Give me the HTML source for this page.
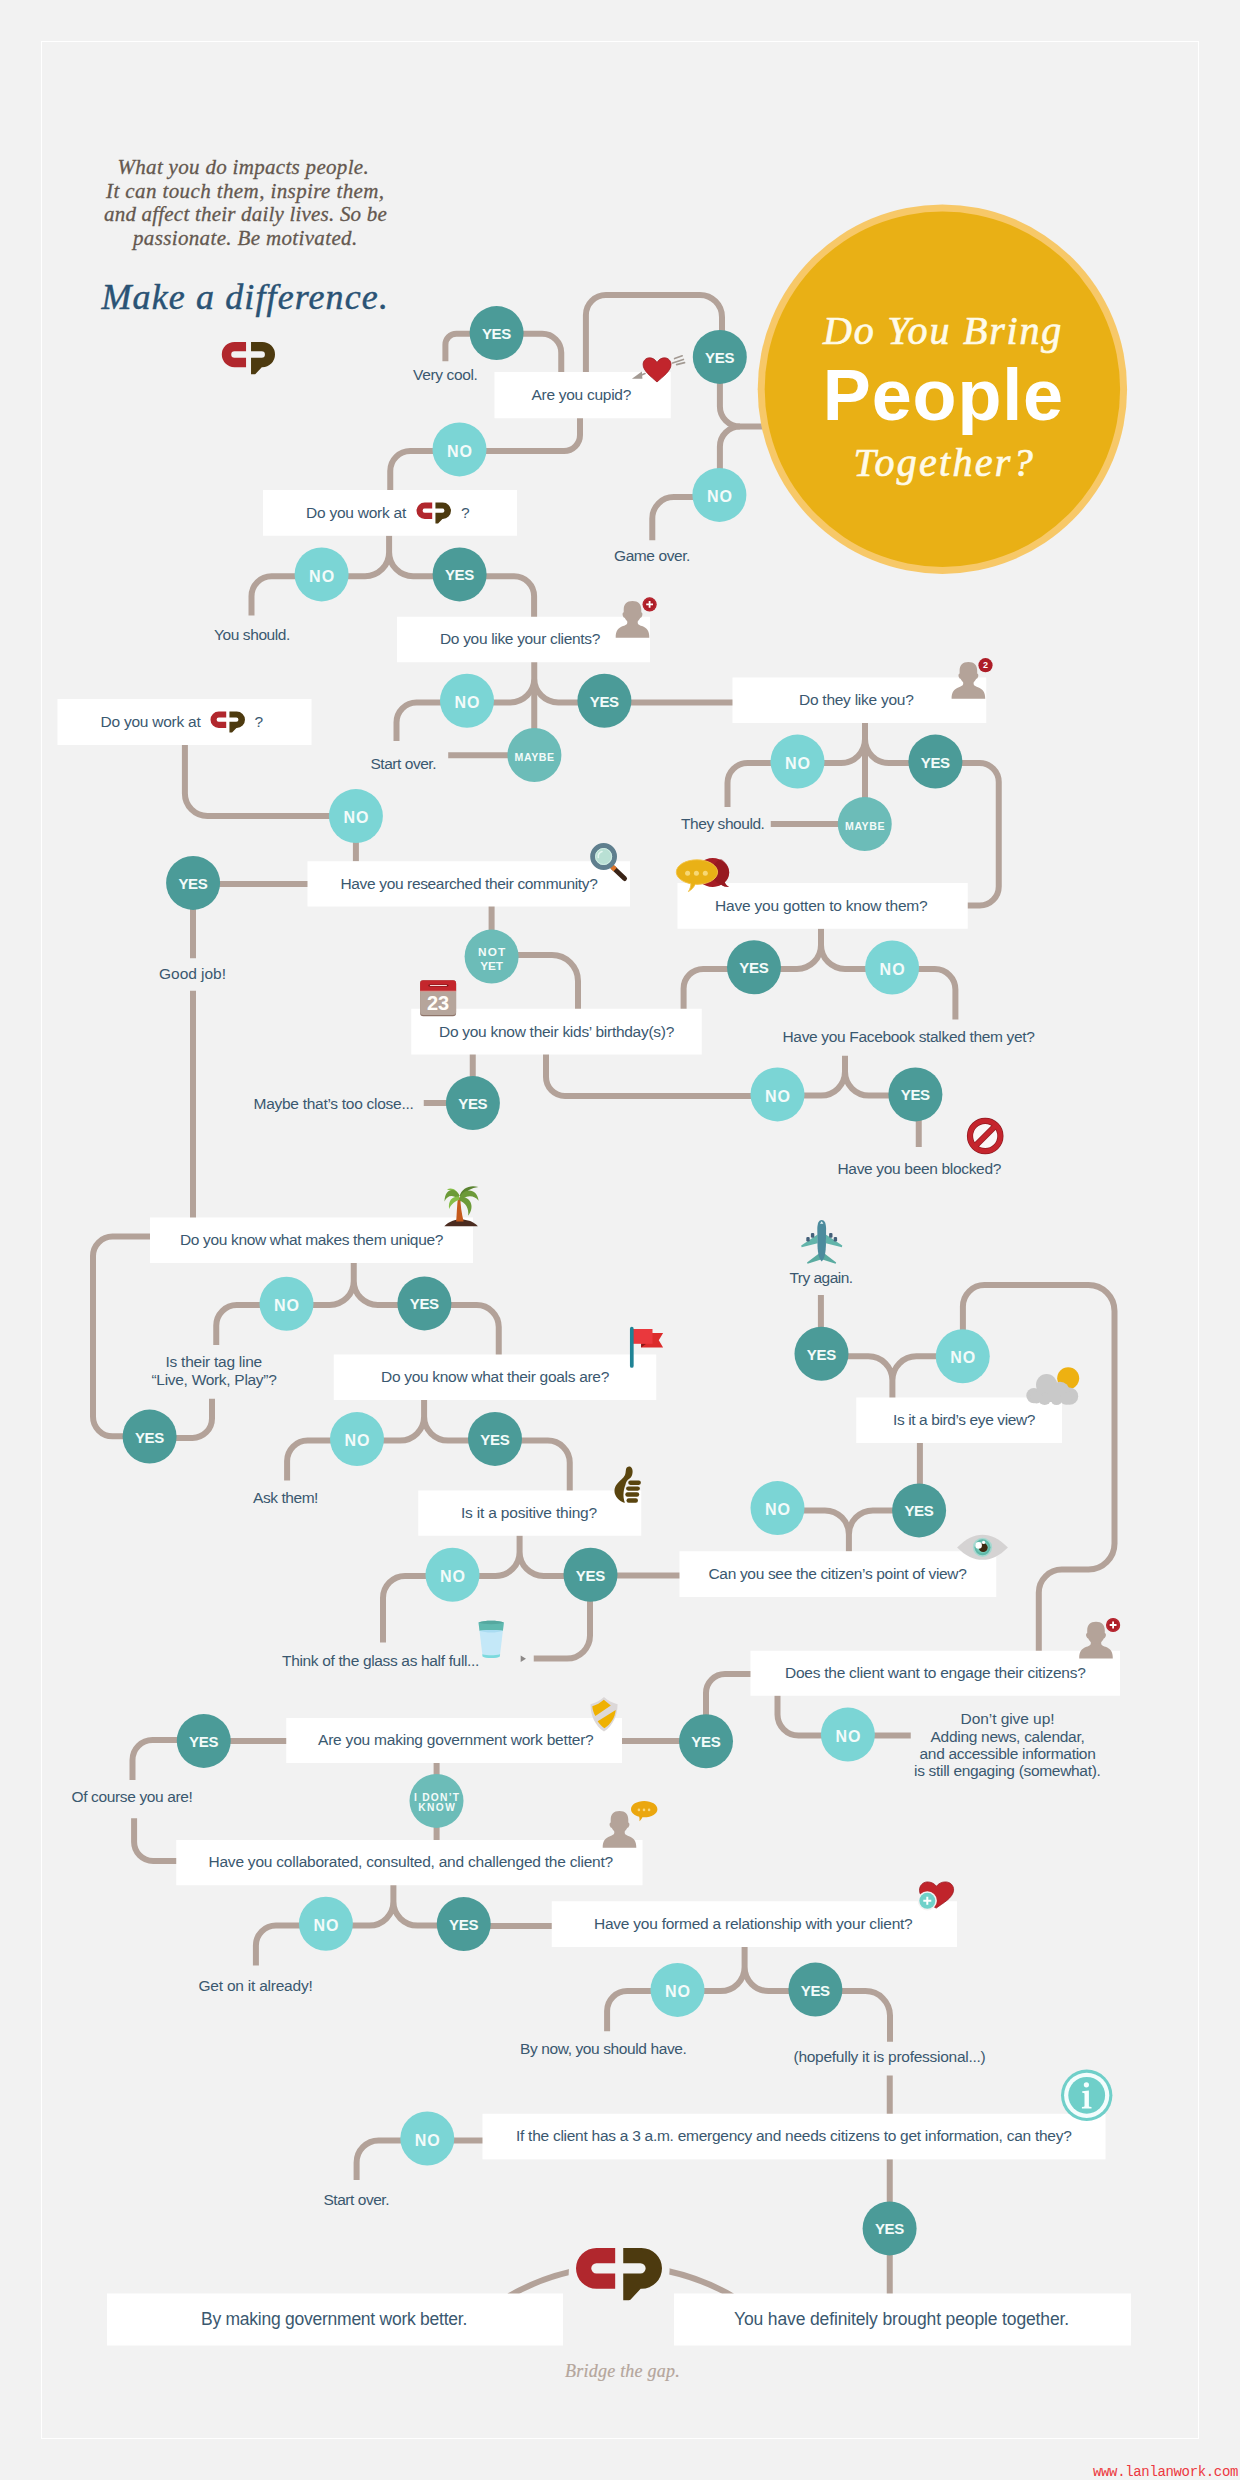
<!DOCTYPE html>
<html><head><meta charset="utf-8"><title>Do You Bring People Together?</title>
<style>
html,body{margin:0;padding:0;background:#f2f2f2;}
#page{position:relative;width:1240px;height:2480px;background:#f2f2f2;overflow:hidden;font-family:"Liberation Sans",sans-serif;}
#page svg.art{position:absolute;left:0;top:0;}
.t{position:absolute;white-space:pre;color:#3a586f;font-size:15.5px;line-height:20px;height:20px;}
.tb{position:absolute;white-space:pre;color:#3a586f;font-size:17.5px;line-height:22px;height:22px;}
.f{position:absolute;white-space:pre;line-height:1;}
.c{position:absolute;white-space:pre;color:#f3fbfa;font-weight:bold;text-align:left;}
</style></head><body><div id="page">

<svg class="art" width="1240" height="2480" viewBox="0 0 1240 2480">
<rect x="41.5" y="41.5" width="1157" height="2397" fill="none" stroke="#ffffff" stroke-width="1"/>
<path d="M509.1,2296 A223.1,223.1 0 0 1 570,2271.9 M668.5,2271.2 A223.1,223.1 0 0 1 732.3,2296" fill="none" stroke="#b3a299" stroke-width="6"/>
<g fill="none" stroke="#b3a299" stroke-width="6" stroke-linecap="butt" stroke-linejoin="round">
<path d="M496,333.75 H456.4 A11,11 0 0 0 445.4,344.75 V361.25"/>
<path d="M496,333.75 H542.25 A19,19 0 0 1 561.25,352.75 V372"/>
<path d="M585.9,372 V315 A20,20 0 0 1 605.9,295 H700 A22,22 0 0 1 722,317 V357"/>
<path d="M719.9,357 V406.4 A20,20 0 0 0 739.9,426.4 H770"/>
<path d="M719.9,495 V446.4 A20,20 0 0 1 739.9,426.4"/>
<path d="M719,497 H673.6999999999999 A21.4,21.4 0 0 0 652.3,518.4 V540.25"/>
<path d="M580,418 V435.1 A16,16 0 0 1 564,451.1 H410.25 A20,20 0 0 0 390.25,471.1 V490"/>
<path d="M389.1,535.5 V552.25 A24,24 0 0 1 365.1,576.25 H321 M389.1,552.25 A24,24 0 0 0 413.1,576.25 H459"/>
<path d="M321,576.25 H271.5 A20,20 0 0 0 251.5,596.25 V615.5"/>
<path d="M459,576.25 H514.1 A20,20 0 0 1 534.1,596.25 V617"/>
<path d="M534.25,662 V678.5 A24,24 0 0 1 510.25,702.5 H467 M534.25,678.5 A24,24 0 0 0 558.25,702.5 H604"/>
<path d="M534.25,690 V755.2 H448.2"/>
<path d="M467,702.5 H416.5 A20,20 0 0 0 396.5,722.5 V741"/>
<path d="M604,702.4 H733"/>
<path d="M865,722.5 V739.1 A24,24 0 0 1 841,763.1 H797 M865,739.1 A24,24 0 0 0 889,763.1 H935"/>
<path d="M865,750 V824.1 H770.75"/>
<path d="M797,763.1 H747.5 A20,20 0 0 0 727.5,783.1 V807"/>
<path d="M935,763.1 H979.75 A19,19 0 0 1 998.75,782.1 V886.4 A19,19 0 0 1 979.75,905.4 H967"/>
<path d="M821,928.5 V945 A24,24 0 0 1 797,969 H754 M821,945 A24,24 0 0 0 845,969 H892"/>
<path d="M754,969 H703.2 A19.6,19.6 0 0 0 683.6,988.6 V1009"/>
<path d="M892,969 H934.9 A20.5,20.5 0 0 1 955.4,989.5 V1019.5"/>
<path d="M845,1055.75 V1071.6 A24,24 0 0 1 821,1095.6 H777 M845,1071.6 A24,24 0 0 0 869,1095.6 H915"/>
<path d="M777,1096 H565 A19,19 0 0 1 546,1077 V1054"/>
<path d="M918.75,1095 V1147"/>
<path d="M184.9,745 V793.5 A22.5,22.5 0 0 0 207.4,816 H355"/>
<path d="M355.9,816 V861.5"/>
<path d="M193,884.1 H308"/>
<path d="M193,883 V958.25"/>
<path d="M193,990.75 V1218"/>
<path d="M491.6,906 V957"/>
<path d="M491,955 H552 A26,26 0 0 1 578,981 V1009"/>
<path d="M472.75,1054 V1103"/>
<path d="M472.75,1102.9 H423.75"/>
<path d="M150.5,1236.6 H112.5 A19.5,19.5 0 0 0 93,1256.1 V1416.75 A19.5,19.5 0 0 0 112.5,1436.25 H149"/>
<path d="M149,1437.9 H192.5 A19.5,19.5 0 0 0 212,1418.4 V1398.75"/>
<path d="M353.75,1262.5 V1281 A24,24 0 0 1 329.75,1305 H286 M353.75,1281 A24,24 0 0 0 377.75,1305 H424"/>
<path d="M286,1305 H236.75 A20.5,20.5 0 0 0 216.25,1325.5 V1345"/>
<path d="M424,1305.1 H476.75 A22,22 0 0 1 498.75,1327.1 V1355"/>
<path d="M424.1,1399.5 V1416.6 A24,24 0 0 1 400.1,1440.6 H357 M424.1,1416.6 A24,24 0 0 0 448.1,1440.6 H495"/>
<path d="M357,1440.6 H307.6 A20.5,20.5 0 0 0 287.1,1461.1 V1480.5"/>
<path d="M495,1440.6 H547.75 A22,22 0 0 1 569.75,1462.6 V1491"/>
<path d="M519.6,1535.25 V1552 A24,24 0 0 1 495.6,1576 H452 M519.6,1552 A24,24 0 0 0 543.6,1576 H590"/>
<path d="M452,1576 H405 A22,22 0 0 0 383,1598 V1642.5"/>
<path d="M590,1575.4 H680"/>
<path d="M590,1575 V1635.6 A23,23 0 0 1 567,1658.6 H533.75"/>
<path d="M820.9,1354 V1295"/>
<path d="M892.4,1398 V1380.25 A24,24 0 0 0 868.4,1356.25 H821 M892.4,1380.25 A24,24 0 0 1 916.4,1356.25 H962"/>
<path d="M962.9,1356 V1306.5 A21.5,21.5 0 0 1 984.4,1285 H1088.5 A26,26 0 0 1 1114.5,1311 V1543.6 A26,26 0 0 1 1088.5,1569.6 H1061.8 A23,23 0 0 0 1038.8,1592.6 V1651"/>
<path d="M919.9,1442.5 V1510.5"/>
<path d="M848.9,1551.75 V1534.4 A24,24 0 0 0 824.9,1510.4 H777 M848.9,1534.4 A24,24 0 0 1 872.9,1510.4 H919"/>
<path d="M751,1674.1 H725 A19,19 0 0 0 706,1693.1 V1741"/>
<path d="M706,1740.9 H621.5"/>
<path d="M777.5,1695.25 V1714.5 A21,21 0 0 0 798.5,1735.5 H910.75"/>
<path d="M203,1740.9 H287"/>
<path d="M203,1740 H152.5 A20,20 0 0 0 132.5,1760 V1780"/>
<path d="M134.1,1818.25 V1841.9 A19,19 0 0 0 153.1,1860.9 H177"/>
<path d="M436.6,1762.5 V1840.5"/>
<path d="M393.4,1885 V1901.6 A24,24 0 0 1 369.4,1925.6 H326 M393.4,1901.6 A24,24 0 0 0 417.4,1925.6 H463"/>
<path d="M326,1925.6 H275.9 A20,20 0 0 0 255.9,1945.6 V1965.5"/>
<path d="M463,1925.9 H552"/>
<path d="M744.6,1946.5 V1967.1 A24,24 0 0 1 720.6,1991.1 H677 M744.6,1967.1 A24,24 0 0 0 768.6,1991.1 H815"/>
<path d="M677,1991.1 H627.1 A20,20 0 0 0 607.1,2011.1 V2031.25"/>
<path d="M815,1991.1 H865.5 A24.5,24.5 0 0 1 890,2015.6 V2041.75"/>
<path d="M889.75,2075.5 V2114"/>
<path d="M427,2140.4 H483"/>
<path d="M427,2140.4 H378.6 A22,22 0 0 0 356.6,2162.4 V2180"/>
<path d="M889.75,2159 V2294.5"/>
</g>
<circle cx="942.4" cy="389.2" r="184.7" fill="#f7c868"/>
<circle cx="942.4" cy="389.2" r="177.7" fill="#e9b015"/>
<rect x="494.5" y="372" width="176.25" height="46.25" fill="#fff"/>
<rect x="263" y="490" width="254" height="45.75" fill="#fff"/>
<rect x="397" y="616.75" width="253" height="45.5" fill="#fff"/>
<rect x="732.5" y="677.5" width="253.75" height="45.5" fill="#fff"/>
<rect x="57.5" y="699" width="254.0" height="46" fill="#fff"/>
<rect x="307.5" y="861.25" width="322.5" height="45.25" fill="#fff"/>
<rect x="677.5" y="883" width="290.25" height="45.75" fill="#fff"/>
<rect x="411.25" y="1008.75" width="290.5" height="45.75" fill="#fff"/>
<rect x="150" y="1217.5" width="323" height="45.5" fill="#fff"/>
<rect x="333.75" y="1354.5" width="322.5" height="45.5" fill="#fff"/>
<rect x="418.25" y="1490.5" width="223.0" height="45.25" fill="#fff"/>
<rect x="856.25" y="1397.5" width="205.75" height="45.5" fill="#fff"/>
<rect x="679.5" y="1551.25" width="316.75" height="45.75" fill="#fff"/>
<rect x="750.5" y="1650.75" width="369.5" height="45.0" fill="#fff"/>
<rect x="286.25" y="1718" width="335.75" height="45" fill="#fff"/>
<rect x="176.25" y="1840" width="466.25" height="45.25" fill="#fff"/>
<rect x="551.75" y="1901.25" width="405.25" height="45.75" fill="#fff"/>
<rect x="482.5" y="2113.75" width="623.0" height="45.65000000000009" fill="#fff"/>
<rect x="107" y="2293.5" width="456" height="52.0" fill="#fff"/>
<rect x="674" y="2293.5" width="457" height="52.0" fill="#fff"/>
<circle cx="496.6" cy="333.1" r="27" fill="#4b9b98"/>
<circle cx="719.8" cy="356.9" r="27" fill="#4b9b98"/>
<circle cx="459.5" cy="449.4" r="27" fill="#7bd5d5"/>
<circle cx="719.4" cy="494.9" r="27" fill="#7bd5d5"/>
<circle cx="321.6" cy="574.4" r="27" fill="#7bd5d5"/>
<circle cx="459.6" cy="574.4" r="27" fill="#4b9b98"/>
<circle cx="467" cy="700.8" r="27" fill="#7bd5d5"/>
<circle cx="604.4" cy="700.8" r="27" fill="#4b9b98"/>
<circle cx="534.4" cy="755" r="27" fill="#6cbcb8"/>
<circle cx="355.9" cy="816.1" r="27" fill="#7bd5d5"/>
<circle cx="193.1" cy="882.9" r="27" fill="#4b9b98"/>
<circle cx="491.6" cy="956.6" r="27" fill="#6cbcb8"/>
<circle cx="472.9" cy="1103.1" r="27" fill="#4b9b98"/>
<circle cx="797.5" cy="761.6" r="27" fill="#7bd5d5"/>
<circle cx="935.4" cy="761.6" r="27" fill="#4b9b98"/>
<circle cx="864.75" cy="824.1" r="27" fill="#6cbcb8"/>
<circle cx="754" cy="967.3" r="27" fill="#4b9b98"/>
<circle cx="892.1" cy="967.5" r="27" fill="#7bd5d5"/>
<circle cx="777.5" cy="1094.4" r="27" fill="#7bd5d5"/>
<circle cx="915.4" cy="1094.4" r="27" fill="#4b9b98"/>
<circle cx="286.5" cy="1303.75" r="27" fill="#7bd5d5"/>
<circle cx="424.4" cy="1303.4" r="27" fill="#4b9b98"/>
<circle cx="149.6" cy="1436.6" r="27" fill="#4b9b98"/>
<circle cx="357" cy="1439.1" r="27" fill="#7bd5d5"/>
<circle cx="495" cy="1438.9" r="27" fill="#4b9b98"/>
<circle cx="452.5" cy="1574.8" r="27" fill="#7bd5d5"/>
<circle cx="590.5" cy="1574.8" r="27" fill="#4b9b98"/>
<circle cx="821.5" cy="1353.75" r="27" fill="#4b9b98"/>
<circle cx="962.75" cy="1356.25" r="27" fill="#7bd5d5"/>
<circle cx="777.5" cy="1508.1" r="27" fill="#7bd5d5"/>
<circle cx="919.1" cy="1510.4" r="27" fill="#4b9b98"/>
<circle cx="706" cy="1741.25" r="27" fill="#4b9b98"/>
<circle cx="847.9" cy="1734.6" r="27" fill="#7bd5d5"/>
<circle cx="203.75" cy="1740.9" r="27" fill="#4b9b98"/>
<circle cx="436.5" cy="1800.9" r="27" fill="#6cbcb8"/>
<circle cx="325.9" cy="1923.75" r="27" fill="#7bd5d5"/>
<circle cx="463.75" cy="1924.1" r="27" fill="#4b9b98"/>
<circle cx="677.5" cy="1989.9" r="27" fill="#7bd5d5"/>
<circle cx="815.4" cy="1989.6" r="27" fill="#4b9b98"/>
<circle cx="427.3" cy="2138.5" r="27" fill="#7bd5d5"/>
<circle cx="889.6" cy="2228.4" r="27" fill="#4b9b98"/>
<g transform="translate(221.8,341.9) scale(0.1347)"><path fill="#b1272d" d="M180,0 H94 A94,94 0 0 0 94,188 H180 V118 H94 A24,24 0 0 1 94,70 H180 Z"/><path fill="#4d3a0f" d="M217,0 H301 A94,94 0 0 1 301,188 H297 L250,238 Q247,240 243,240 H217 V118 H296 A24,24 0 0 0 296,70 H217 Z"/></g>
<g transform="translate(416.5,502.5) scale(0.0873)"><path fill="#b1272d" d="M180,0 H94 A94,94 0 0 0 94,188 H180 V118 H94 A24,24 0 0 1 94,70 H180 Z"/><path fill="#4d3a0f" d="M217,0 H301 A94,94 0 0 1 301,188 H297 L250,238 Q247,240 243,240 H217 V118 H296 A24,24 0 0 0 296,70 H217 Z"/></g>
<g transform="translate(210.5,711.5) scale(0.0873)"><path fill="#b1272d" d="M180,0 H94 A94,94 0 0 0 94,188 H180 V118 H94 A24,24 0 0 1 94,70 H180 Z"/><path fill="#4d3a0f" d="M217,0 H301 A94,94 0 0 1 301,188 H297 L250,238 Q247,240 243,240 H217 V118 H296 A24,24 0 0 0 296,70 H217 Z"/></g>
<path d="M568.6,2276 Q568.6,2240 600,2240 H640 Q669.6,2240 669.6,2270 Q669.6,2288 652,2296 L640,2308 H612 V2298 H600 Q568.6,2298 568.6,2276 Z" fill="#f2f2f2"/>
<g transform="translate(576,2247.9) scale(0.2177)"><path fill="#b1272d" d="M180,0 H94 A94,94 0 0 0 94,188 H180 V118 H94 A24,24 0 0 1 94,70 H180 Z"/><path fill="#4d3a0f" d="M217,0 H301 A94,94 0 0 1 301,188 H297 L250,238 Q247,240 243,240 H217 V118 H296 A24,24 0 0 0 296,70 H217 Z"/></g>
<g stroke="#a39a93" stroke-width="1.6" fill="none" stroke-linecap="round"><path d="M674.6,358.6 L682.2,355.8 M672.6,362.9 L683.4,359.4 M676.6,364.6 L684.6,362.6"/><path d="M645,373.6 L641,375.2"/></g>
<path d="M631.9,378.8 L641.9,371.5 L642.4,378.8 Z" fill="#a39a93"/>
<path d="M657,362.6 C655.5,359.6 652.6,357.8 649.6,357.8 C645.9,357.8 643.1,360.8 643.1,364.5 C643.1,371 651,376.5 657,382 C663,376.5 671,371 671,364.5 C671,360.8 668.2,357.8 664.5,357.8 C661.5,357.8 658.5,359.6 657,362.6 Z" fill="#c1252c" stroke="#a01b22" stroke-width="0.8"/>
<g transform="translate(632.5,637.7)" fill="#b4a399"><path d="M-16.8,0 C-16.9,-6.5 -14.5,-9.6 -9.5,-11.6 C-6,-13 -5.2,-13.6 -5.2,-15.5 V-19 H5.2 V-15.5 C5.2,-13.6 6,-13 9.5,-11.6 C14.5,-9.6 16.9,-6.5 16.8,0 Z"/><path d="M0,-36.7 C5.8,-36.7 8.8,-33.4 8.8,-28 V-25.4 C10,-25.2 10.2,-23.4 9.6,-21.8 C9.1,-20.4 8.4,-20 7.8,-20 C6.6,-17 3.6,-14.6 0,-14.6 C-3.6,-14.6 -6.6,-17 -7.8,-20 C-8.4,-20 -9.1,-20.4 -9.6,-21.8 C-10.2,-23.4 -10,-25.2 -8.8,-25.4 V-28 C-8.8,-33.4 -5.8,-36.7 0,-36.7 Z"/></g>
<circle cx="649.6" cy="604.4" r="7.1" fill="#ad1d27"/><circle cx="649.6" cy="604.4" r="6" fill="none" stroke="#c2303a" stroke-width="1.2" opacity=".6"/><path d="M646.2,604.4 H653.0 M649.6,601.0 V607.8" stroke="#fff" stroke-width="1.8" fill="none"/>
<g transform="translate(968.4,698.8)" fill="#b4a399"><path d="M-16.8,0 C-16.9,-6.5 -14.5,-9.6 -9.5,-11.6 C-6,-13 -5.2,-13.6 -5.2,-15.5 V-19 H5.2 V-15.5 C5.2,-13.6 6,-13 9.5,-11.6 C14.5,-9.6 16.9,-6.5 16.8,0 Z"/><path d="M0,-36.7 C5.8,-36.7 8.8,-33.4 8.8,-28 V-25.4 C10,-25.2 10.2,-23.4 9.6,-21.8 C9.1,-20.4 8.4,-20 7.8,-20 C6.6,-17 3.6,-14.6 0,-14.6 C-3.6,-14.6 -6.6,-17 -7.8,-20 C-8.4,-20 -9.1,-20.4 -9.6,-21.8 C-10.2,-23.4 -10,-25.2 -8.8,-25.4 V-28 C-8.8,-33.4 -5.8,-36.7 0,-36.7 Z"/></g>
<circle cx="985.5" cy="665.2" r="7.1" fill="#ad1d27"/><text x="985.5" y="668.4" font-family="Liberation Sans" font-weight="bold" font-size="9" fill="#fff" text-anchor="middle">2</text>
<g transform="translate(1096,1658.4)" fill="#b4a399"><path d="M-16.8,0 C-16.9,-6.5 -14.5,-9.6 -9.5,-11.6 C-6,-13 -5.2,-13.6 -5.2,-15.5 V-19 H5.2 V-15.5 C5.2,-13.6 6,-13 9.5,-11.6 C14.5,-9.6 16.9,-6.5 16.8,0 Z"/><path d="M0,-36.7 C5.8,-36.7 8.8,-33.4 8.8,-28 V-25.4 C10,-25.2 10.2,-23.4 9.6,-21.8 C9.1,-20.4 8.4,-20 7.8,-20 C6.6,-17 3.6,-14.6 0,-14.6 C-3.6,-14.6 -6.6,-17 -7.8,-20 C-8.4,-20 -9.1,-20.4 -9.6,-21.8 C-10.2,-23.4 -10,-25.2 -8.8,-25.4 V-28 C-8.8,-33.4 -5.8,-36.7 0,-36.7 Z"/></g>
<circle cx="1113.1" cy="1625" r="7.1" fill="#ad1d27"/><circle cx="1113.1" cy="1625" r="6" fill="none" stroke="#c2303a" stroke-width="1.2" opacity=".6"/><path d="M1109.6999999999998,1625 H1116.5 M1113.1,1621.6 V1628.4" stroke="#fff" stroke-width="1.8" fill="none"/>
<g transform="translate(619.5,1847.8)" fill="#b4a399"><path d="M-16.8,0 C-16.9,-6.5 -14.5,-9.6 -9.5,-11.6 C-6,-13 -5.2,-13.6 -5.2,-15.5 V-19 H5.2 V-15.5 C5.2,-13.6 6,-13 9.5,-11.6 C14.5,-9.6 16.9,-6.5 16.8,0 Z"/><path d="M0,-36.7 C5.8,-36.7 8.8,-33.4 8.8,-28 V-25.4 C10,-25.2 10.2,-23.4 9.6,-21.8 C9.1,-20.4 8.4,-20 7.8,-20 C6.6,-17 3.6,-14.6 0,-14.6 C-3.6,-14.6 -6.6,-17 -7.8,-20 C-8.4,-20 -9.1,-20.4 -9.6,-21.8 C-10.2,-23.4 -10,-25.2 -8.8,-25.4 V-28 C-8.8,-33.4 -5.8,-36.7 0,-36.7 Z"/></g>
<path d="M644.2,1801.1 C651.6,1801.1 657.4,1804.7 657.4,1809.2 C657.4,1813.7 651.6,1817.3 644.2,1817.3 C643.6,1817.3 643,1817.3 642.4,1817.2 C641.6,1819 640.6,1820.3 639.4,1821.3 C639.7,1819.7 639.6,1818.2 639.2,1816.7 C634.3,1815.5 631,1812.6 631,1809.2 C631,1804.7 636.8,1801.1 644.2,1801.1 Z" fill="#eba70f"/>
<g fill="#f8d77c"><circle cx="638.9" cy="1809.9" r="1.3"/><circle cx="644" cy="1809.9" r="1.3"/><circle cx="649.1" cy="1809.9" r="1.3"/></g>
<path d="M613.2,867.8 L624.6,878.6" stroke="#3a2417" stroke-width="4.8" stroke-linecap="round" fill="none"/>
<path d="M611.6,866.2 L615.2,869.6" stroke="#dc7428" stroke-width="4.8" fill="none"/>
<circle cx="603.6" cy="856.5" r="11" fill="#b9e0d4" stroke="#5f7f8e" stroke-width="4.8"/>
<circle cx="603.6" cy="856.5" r="8" fill="none" stroke="#d4efe6" stroke-width="1"/>
<path d="M598.3,857.5 A5.6,5.6 0 0 1 602,851.5" stroke="#e4f6f0" stroke-width="1.6" fill="none" stroke-linecap="round"/>
<path d="M712.7,857.9 C721.8,857.9 729.2,864.4 729.2,872.4 C729.2,876.2 727.5,879.7 724.8,882.2 C725.6,884.2 727,885.8 729,887 C726,887.2 723.4,886.3 721.2,884.8 C718.7,886.2 715.8,886.9 712.7,886.9 C703.6,886.9 696.2,880.4 696.2,872.4 C696.2,864.4 703.6,857.9 712.7,857.9 Z" fill="#a51d25"/>
<path d="M712,872.4 C712,866 716,860.5 721,858.9 C725.8,861.6 729.2,866.6 729.2,872.4 C729.2,876.2 727.5,879.7 724.8,882.2 C725.6,884.2 727,885.8 729,887 C726,887.2 723.4,886.3 721.2,884.8 C716,883 712,878.5 712,872.4 Z" fill="#8d151d" opacity=".55"/>
<path d="M697,859.8 C708.4,859.8 717.6,865.3 717.6,872.1 C717.6,878.9 708.4,884.4 697,884.4 C696.4,884.4 695.8,884.4 695.2,884.3 C693.8,887.4 691.6,889.8 688.4,891.6 C690,889.2 690.8,886.6 690.9,883.8 C682.4,882.2 676.3,877.6 676.3,872.1 C676.3,865.3 685.6,859.8 697,859.8 Z" fill="#e9b116" stroke="#f3c347" stroke-width="0.9"/>
<g fill="#f7d875"><circle cx="687.6" cy="873.3" r="2.5"/><circle cx="696.4" cy="873.3" r="2.5"/><circle cx="705.3" cy="873.3" r="2.5"/></g>
<rect x="420.1" y="980.2" width="36" height="36" rx="3.2" fill="#8e7469"/>
<rect x="420.1" y="980.2" width="36" height="34.8" rx="3.2" fill="#b6a59b"/>
<path d="M420.1,991.2 V983.4 Q420.1,980.2 423.3,980.2 H452.9 Q456.1,980.2 456.1,983.4 V991.2 Z" fill="#c4262c"/>
<path d="M420.1,991.2 H456.1" stroke="#d9a9a0" stroke-width="0.8"/>
<path d="M429.4,985.5 H447.4" stroke="#7a1216" stroke-width="2.2" stroke-linecap="round"/><path d="M430.4,985.5 H446.4" stroke="#f6d9d6" stroke-width="1.2" stroke-linecap="round"/>
<text x="438.1" y="1009.7" font-family="Liberation Sans" font-weight="bold" font-size="20" fill="#fffdf8" text-anchor="middle">23</text>
<circle cx="985.2" cy="1136" r="15.2" fill="#faf7f7" stroke="#8f1a21" stroke-width="6.2"/>
<path d="M974.6,1146.6 L995.8,1125.4" stroke="#8f1a21" stroke-width="6.2" fill="none"/>
<circle cx="985.2" cy="1136" r="15.2" fill="none" stroke="#c5252d" stroke-width="4.8"/>
<path d="M974.6,1146.6 L995.8,1125.4" stroke="#c5252d" stroke-width="4.8" fill="none"/>
<path d="M444.3,1226.3 C449,1221.4 455,1219.6 461,1219.6 C467.4,1219.6 473.4,1221.6 477.9,1226.3 Z" fill="#4b2c20"/>
<path d="M456.2,1221.6 C456.8,1213 457,1205 458,1197.4 L460.4,1197.4 C460.4,1205 461.6,1213 463.6,1221.6 Z" fill="#c45a1c"/>
<path d="M459.4,1195.6 C456.6,1189.6 451.4,1186.6 446.8,1189.8 C451,1189.6 454.4,1192 457,1197 Z" fill="#86be48"/>
<path d="M459.5,1195.4 C455,1187 445,1188 444.5,1201.4 C447.2,1195.6 452.2,1194 458,1198.8 Z" fill="#6c9a38"/>
<path d="M459,1196.6 C452,1196 448,1201 449.1,1208.9 C451.6,1204 454.6,1201.2 459.8,1199.8 Z" fill="#86be48"/>
<path d="M459.6,1196 C462,1188 470,1184.6 478.4,1187.1 C471.5,1187.8 465.8,1191.2 462.2,1197.6 Z" fill="#5a8330"/>
<path d="M460,1196 C466,1187.4 477.2,1189 478.6,1200.8 C475,1195.6 468,1194.6 461.6,1199.2 Z" fill="#6c9a38"/>
<path d="M460,1196.4 C470.4,1196.4 475.4,1206 468.2,1215.8 C469.2,1208.2 465.4,1202.8 459.4,1200.6 Z" fill="#6c9a38"/>
<g><path d="M817.6,1234.6 L801.2,1245.6 L801.6,1247.2 L817.6,1243.2 Z M825.8,1234.6 L842.3,1245.6 L841.9,1247.2 L825.8,1243.2 Z" fill="#62b4aa"/><path d="M819.6,1253 L807,1262.4 L807.6,1263.8 L821,1259.4 Z M823.8,1253 L836.2,1262.4 L835.6,1263.8 L822.4,1259.4 Z" fill="#5aaba0"/><g fill="#44607a"><rect x="810.9" y="1232.9" width="3.4" height="4.8" rx="1.2"/><rect x="806.3" y="1236.9" width="3.4" height="4.6" rx="1.2"/><rect x="829.1" y="1232.9" width="3.4" height="4.8" rx="1.2"/><rect x="833.7" y="1236.9" width="3.4" height="4.6" rx="1.2"/></g><path d="M821.7,1219.9 C824.4,1219.9 826.1,1223 826.1,1229 L825.9,1246 C825.6,1254 824,1259.6 821.7,1261.4 C819.4,1259.6 817.8,1254 817.5,1246 L817.3,1229 C817.3,1223 819,1219.9 821.7,1219.9 Z" fill="#4c8b9d"/><path d="M821.7,1221.2 L823.4,1223.8 H820 Z" fill="#e9f6f6"/></g>
<path d="M641.1,1333.1 H663.1 L658.8,1340.2 L663.1,1347.4 H641.1 Z" fill="#dc2c2c"/>
<path d="M641.1,1343.8 H646.2 L641.1,1347.4 Z" fill="#8a1818"/>
<rect x="633" y="1329" width="19.5" height="14.8" fill="#ea383d"/>
<path d="M631.8,1328.7 V1366" stroke="#1f8395" stroke-width="3.7" stroke-linecap="round" fill="none"/>
<circle cx="1068.2" cy="1378.2" r="11" fill="#eeb111"/>
<g fill="#c9c9c9"><circle cx="1046.6" cy="1384.7" r="10.6"/><circle cx="1033.9" cy="1395.6" r="7.6"/><circle cx="1069.6" cy="1396.2" r="8.6"/><circle cx="1060" cy="1391.4" r="9.6"/><rect x="1033.9" y="1390" width="35.7" height="12"/><circle cx="1044.7" cy="1398.9" r="6.2"/><circle cx="1056.5" cy="1399.3" r="5.8"/><circle cx="1066" cy="1398.6" r="6.2"/><circle cx="1036.5" cy="1397.6" r="6"/></g>
<path d="M629,1466.4 C631.4,1466.2 632.8,1469 632.6,1472 C632.4,1475 631.4,1477.4 629.6,1478.6 C627,1480.2 626,1482.4 625.4,1485 C624.4,1487.4 624,1489.4 623.6,1492.4 C623.2,1495.6 623.6,1499.4 624.9,1502.8 C620.8,1502 617.2,1499 615.4,1495 C613.6,1490.6 614.6,1486.6 617.4,1483.4 C620,1480.4 623.6,1478.4 625,1475 C626,1472.4 625.6,1469.6 626.4,1468 C627,1467 628,1466.5 629,1466.4 Z" fill="#5a450f"/>
<g fill="#5a450f"><rect x="628.2" y="1480.6" width="12.7" height="4.3" rx="2.15"/><rect x="626.1" y="1486.4" width="13.8" height="4.3" rx="2.15"/><rect x="625.3" y="1492.3" width="13.9" height="4.4" rx="2.2"/><rect x="626.5" y="1498.3" width="11.5" height="4.4" rx="2.2"/></g>
<path d="M957.1,1547.5 C966,1538.4 974,1534.7 982.5,1534.7 C991,1534.7 999,1538.4 1007.9,1547.5 C999,1556.4 991,1559.8 982.5,1559.8 C974,1559.8 966,1556.4 957.1,1547.5 Z" fill="#d5d3d3"/>
<circle cx="982.5" cy="1547.3" r="9.6" fill="#a6d8d0"/><circle cx="982.5" cy="1547.3" r="8" fill="#5fb9a9"/><circle cx="982.5" cy="1547.3" r="6" fill="#74c8b6"/>
<circle cx="983.2" cy="1547.6" r="4.5" fill="#3d2a12"/><circle cx="978.6" cy="1545.4" r="3.3" fill="#fff"/><circle cx="983.6" cy="1542.4" r="1.6" fill="#fff"/>
<path d="M478.5,1622.6 L482.6,1656.6 C486,1658.6 496.4,1658.6 499.8,1656.6 L503.9,1622.6 Z" fill="#c4e8f8"/>
<path d="M478.5,1622.6 C484,1620.2 498.4,1620.2 503.9,1622.6 L502.9,1630.8 C496,1629.6 486.4,1629.6 479.5,1630.8 Z" fill="#60b9af"/>
<path d="M478.5,1622.6 C484,1620.2 498.4,1620.2 503.9,1622.6 C498.4,1624.8 484,1624.8 478.5,1622.6 Z" fill="#55a89f"/>
<path d="M479.5,1630.8 C486.4,1629.6 496,1629.6 502.9,1630.8 C496,1633.2 486.4,1633.2 479.5,1630.8 Z" fill="#a9dcf2"/>
<path d="M482.3,1654.2 L482.6,1656.6 C486,1658.6 496.4,1658.6 499.8,1656.6 L500.1,1654.2 C495,1655.6 487.4,1655.6 482.3,1654.2 Z" fill="#7cdadd"/>
<path d="M520.7,1655.5 L526,1658.7 L520.7,1661.9 Z" fill="#8c8887"/>
<path d="M604,1697.1 C600,1700.8 595.6,1703.2 590.5,1704.2 C590.6,1716 595,1725.4 604,1731.6 C613,1725.4 617.4,1716 617.6,1704.2 C612.4,1703.2 608,1700.8 604,1697.1 Z" fill="#dcd8d8"/>
<path d="M592.3,1706.2 C596.6,1705 600.4,1702.8 603.8,1699.8 L610.8,1705.4 L595.4,1716 C593.6,1713 592.6,1709.8 592.3,1706.2 Z" fill="#efb100"/>
<path d="M615.7,1710 C615,1717.6 611,1724 604.4,1728.2 C601.6,1726.2 599.4,1723.8 597.7,1721.2 Z" fill="#efb100"/>
<path d="M936.4,1886.3 C934.4,1883.4 931,1881.9 927.2,1881.9 C922.6,1882.2 919.4,1885.8 919.5,1890.4 C919.8,1897.6 928,1903.6 936.2,1908.1 C943,1903 953,1898 953.6,1890.2 C953.9,1885.4 950.2,1881.9 945.4,1881.9 C941.6,1881.9 938.4,1883.6 936.4,1886.3 Z" fill="#c0242b" stroke="#9b1a22" stroke-width="0.8"/>
<circle cx="927.3" cy="1900.8" r="9.6" fill="#f4f2f2"/><circle cx="927.3" cy="1900.8" r="8" fill="#70d1c9"/>
<path d="M923.3,1900.8 H931.3 M927.3,1896.8 V1904.8" stroke="#fff" stroke-width="2" fill="none"/>
<circle cx="1086.7" cy="2095.3" r="25.7" fill="#6fcfc9"/><circle cx="1086.7" cy="2095.3" r="22.6" fill="#f3fdfd"/><circle cx="1086.7" cy="2095.3" r="18.4" fill="#6fcfc9"/>
<circle cx="1086.4" cy="2084.8" r="2.6" fill="#f6ffff"/>
<path d="M1082.2,2091.2 L1088.9,2090.6 V2106.2 Q1088.9,2106.9 1091.5,2107 V2108.6 H1081.9 V2107 Q1084.5,2106.9 1084.5,2106.2 V2093.6 Q1084.5,2092.8 1082.2,2092.8 Z" fill="#f6ffff"/>
</svg>
<div class="t" style="left:413px;top:365.0px;letter-spacing:-0.356px">Very cool.</div>
<div class="t" style="left:531.5px;top:385.0px;letter-spacing:-0.279px">Are you cupid?</div>
<div class="t" style="left:306px;top:502.5px;letter-spacing:-0.242px">Do you work at</div>
<div class="t" style="left:461px;top:502.5px;letter-spacing:-2.625px">?</div>
<div class="t" style="left:614px;top:546.0px;letter-spacing:-0.412px">Game over.</div>
<div class="t" style="left:214px;top:625.0px;letter-spacing:-0.405px">You should.</div>
<div class="t" style="left:440px;top:629.0px;letter-spacing:-0.320px">Do you like your clients?</div>
<div class="t" style="left:799px;top:690.0px;letter-spacing:-0.259px">Do they like you?</div>
<div class="t" style="left:100.5px;top:711.5px;letter-spacing:-0.242px">Do you work at</div>
<div class="t" style="left:254.5px;top:711.5px;letter-spacing:-2.625px">?</div>
<div class="t" style="left:370.5px;top:753.5px;letter-spacing:-0.469px">Start over.</div>
<div class="t" style="left:681px;top:814.0px;letter-spacing:-0.438px">They should.</div>
<div class="t" style="left:340.5px;top:874.0px;letter-spacing:-0.352px">Have you researched their community?</div>
<div class="t" style="left:715px;top:895.5px;letter-spacing:-0.190px">Have you gotten to know them?</div>
<div class="t" style="left:159px;top:964.0px;letter-spacing:-0.024px">Good job!</div>
<div class="t" style="left:439px;top:1021.5px;letter-spacing:-0.276px">Do you know their kids’ birthday(s)?</div>
<div class="t" style="left:782.5px;top:1026.5px;letter-spacing:-0.333px">Have you Facebook stalked them yet?</div>
<div class="t" style="left:253.5px;top:1094.0px;letter-spacing:-0.275px">Maybe that’s too close...</div>
<div class="t" style="left:837.5px;top:1159.0px;letter-spacing:-0.324px">Have you been blocked?</div>
<div class="t" style="left:180px;top:1230.0px;letter-spacing:-0.339px">Do you know what makes them unique?</div>
<div class="t" style="left:165.5px;top:1352.0px;letter-spacing:-0.254px">Is their tag line</div>
<div class="t" style="left:151.5px;top:1369.5px;letter-spacing:-0.297px">“Live, Work, Play”?</div>
<div class="t" style="left:381px;top:1367.0px;letter-spacing:-0.297px">Do you know what their goals are?</div>
<div class="t" style="left:253px;top:1488.0px;letter-spacing:-0.436px">Ask them!</div>
<div class="t" style="left:461px;top:1503.0px;letter-spacing:-0.194px">Is it a positive thing?</div>
<div class="t" style="left:282px;top:1651.0px;letter-spacing:-0.338px">Think of the glass as half full...</div>
<div class="t" style="left:789.5px;top:1267.5px;letter-spacing:-0.534px">Try again.</div>
<div class="t" style="left:893px;top:1409.5px;letter-spacing:-0.389px">Is it a bird’s eye view?</div>
<div class="t" style="left:708.5px;top:1563.5px;letter-spacing:-0.328px">Can you see the citizen’s point of view?</div>
<div class="t" style="left:785px;top:1662.5px;letter-spacing:-0.248px">Does the client want to engage their citizens?</div>
<div class="t" style="left:960.5px;top:1709.0px;letter-spacing:-0.056px">Don’t give up!</div>
<div class="t" style="left:930.5px;top:1726.5px;letter-spacing:-0.286px">Adding news, calendar,</div>
<div class="t" style="left:919.5px;top:1743.5px;letter-spacing:-0.290px">and accessible information</div>
<div class="t" style="left:914px;top:1761.0px;letter-spacing:-0.312px">is still engaging (somewhat).</div>
<div class="t" style="left:318px;top:1729.5px;letter-spacing:-0.209px">Are you making government work better?</div>
<div class="t" style="left:71.5px;top:1787.0px;letter-spacing:-0.362px">Of course you are!</div>
<div class="t" style="left:208.5px;top:1852.0px;letter-spacing:-0.224px">Have you collaborated, consulted, and challenged the client?</div>
<div class="t" style="left:198.5px;top:1976.0px;letter-spacing:-0.225px">Get on it already!</div>
<div class="t" style="left:594px;top:1913.5px;letter-spacing:-0.239px">Have you formed a relationship with your client?</div>
<div class="t" style="left:520px;top:2039.0px;letter-spacing:-0.387px">By now, you should have.</div>
<div class="t" style="left:793.5px;top:2047.0px;letter-spacing:-0.265px">(hopefully it is professional...)</div>
<div class="t" style="left:516px;top:2126.0px;letter-spacing:-0.266px">If the client has a 3 a.m. emergency and needs citizens to get information, can they?</div>
<div class="t" style="left:323.5px;top:2190.0px;letter-spacing:-0.469px">Start over.</div>
<div class="tb" style="left:201px;top:2308.0px;letter-spacing:-0.251px">By making government work better.</div>
<div class="tb" style="left:734px;top:2308.0px;letter-spacing:-0.134px">You have definitely brought people together.</div>
<div class="f" style="left:117.5px;top:157.4px;font-family:'Liberation Serif';font-size:21px;font-style:italic;font-weight:normal;color:#64584f;-webkit-text-stroke:0.3px #64584f;letter-spacing:0.307px">What you do impacts people.</div>
<div class="f" style="left:106px;top:180.9px;font-family:'Liberation Serif';font-size:21px;font-style:italic;font-weight:normal;color:#64584f;-webkit-text-stroke:0.3px #64584f;letter-spacing:0.398px">It can touch them, inspire them,</div>
<div class="f" style="left:104px;top:204.4px;font-family:'Liberation Serif';font-size:21px;font-style:italic;font-weight:normal;color:#64584f;-webkit-text-stroke:0.3px #64584f;letter-spacing:0.204px">and affect their daily lives. So be</div>
<div class="f" style="left:133px;top:227.9px;font-family:'Liberation Serif';font-size:21px;font-style:italic;font-weight:normal;color:#64584f;-webkit-text-stroke:0.3px #64584f;letter-spacing:0.348px">passionate. Be motivated.</div>
<div class="f" style="left:101.5px;top:278.9px;font-family:'Liberation Serif';font-size:36px;font-style:italic;font-weight:normal;color:#2a5375;-webkit-text-stroke:0.45px #2a5375;letter-spacing:1.109px">Make a difference.</div>
<div class="f" style="left:823px;top:310.8px;font-family:'Liberation Serif';font-size:40px;font-style:italic;font-weight:normal;color:#fffbe9;-webkit-text-stroke:0.7px #fffbe9;letter-spacing:1.785px">Do You Bring</div>
<div class="f" style="left:822.8px;top:358.9px;font-family:'Liberation Sans';font-size:72px;font-style:normal;font-weight:bold;color:#ffffff;letter-spacing:0.854px">People</div>
<div class="f" style="left:853.5px;top:442.5px;font-family:'Liberation Serif';font-size:40px;font-style:italic;font-weight:normal;color:#fffbe9;-webkit-text-stroke:0.7px #fffbe9;letter-spacing:2.304px">Together?</div>
<div class="f" style="left:565px;top:2362.4px;font-family:'Liberation Serif';font-size:18px;font-style:italic;font-weight:normal;color:#b5a69c;-webkit-text-stroke:0.2px #b5a69c;letter-spacing:0.234px">Bridge the gap.</div>
<div class="f" style="left:1093px;top:2464.8px;font-family:'Liberation Mono';font-size:14px;font-style:normal;font-weight:normal;color:#ec3840;letter-spacing:-0.346px">www.lanlanwork.com</div>
<div class="c" style="left:481.9px;top:326.1px;font-size:15px;line-height:15px;letter-spacing:-0.308px">YES</div>
<div class="c" style="left:705.1px;top:349.9px;font-size:15px;line-height:15px;letter-spacing:-0.308px">YES</div>
<div class="c" style="left:447.0px;top:443.6px;font-size:16px;line-height:16px;letter-spacing:1.000px">NO</div>
<div class="c" style="left:706.9px;top:489.1px;font-size:16px;line-height:16px;letter-spacing:1.000px">NO</div>
<div class="c" style="left:309.1px;top:568.6px;font-size:16px;line-height:16px;letter-spacing:1.000px">NO</div>
<div class="c" style="left:444.9px;top:567.4px;font-size:15px;line-height:15px;letter-spacing:-0.308px">YES</div>
<div class="c" style="left:454.5px;top:695.0px;font-size:16px;line-height:16px;letter-spacing:1.000px">NO</div>
<div class="c" style="left:589.7px;top:693.8px;font-size:15px;line-height:15px;letter-spacing:-0.308px">YES</div>
<div class="c" style="left:514.6px;top:751.8px;font-size:10.6px;line-height:10.6px;letter-spacing:0.551px">MAYBE</div>
<div class="c" style="left:343.4px;top:810.3px;font-size:16px;line-height:16px;letter-spacing:1.000px">NO</div>
<div class="c" style="left:178.4px;top:875.9px;font-size:15px;line-height:15px;letter-spacing:-0.308px">YES</div>
<div class="c" style="left:478.0px;top:947.1px;font-size:11.8px;line-height:11.8px;letter-spacing:1.147px">NOT</div>
<div class="c" style="left:480.2px;top:961.0px;font-size:11.8px;line-height:11.8px;letter-spacing:-0.127px">YET</div>
<div class="c" style="left:458.2px;top:1096.1px;font-size:15px;line-height:15px;letter-spacing:-0.308px">YES</div>
<div class="c" style="left:785.0px;top:755.8px;font-size:16px;line-height:16px;letter-spacing:1.000px">NO</div>
<div class="c" style="left:920.7px;top:754.6px;font-size:15px;line-height:15px;letter-spacing:-0.308px">YES</div>
<div class="c" style="left:845.0px;top:820.9px;font-size:10.6px;line-height:10.6px;letter-spacing:0.551px">MAYBE</div>
<div class="c" style="left:739.3px;top:960.3px;font-size:15px;line-height:15px;letter-spacing:-0.308px">YES</div>
<div class="c" style="left:879.6px;top:961.7px;font-size:16px;line-height:16px;letter-spacing:1.000px">NO</div>
<div class="c" style="left:765.0px;top:1088.6px;font-size:16px;line-height:16px;letter-spacing:1.000px">NO</div>
<div class="c" style="left:900.7px;top:1087.4px;font-size:15px;line-height:15px;letter-spacing:-0.308px">YES</div>
<div class="c" style="left:274.0px;top:1297.9px;font-size:16px;line-height:16px;letter-spacing:1.000px">NO</div>
<div class="c" style="left:409.7px;top:1296.4px;font-size:15px;line-height:15px;letter-spacing:-0.308px">YES</div>
<div class="c" style="left:134.9px;top:1429.6px;font-size:15px;line-height:15px;letter-spacing:-0.308px">YES</div>
<div class="c" style="left:344.5px;top:1433.3px;font-size:16px;line-height:16px;letter-spacing:1.000px">NO</div>
<div class="c" style="left:480.3px;top:1431.9px;font-size:15px;line-height:15px;letter-spacing:-0.308px">YES</div>
<div class="c" style="left:440.0px;top:1569.0px;font-size:16px;line-height:16px;letter-spacing:1.000px">NO</div>
<div class="c" style="left:575.8px;top:1567.8px;font-size:15px;line-height:15px;letter-spacing:-0.308px">YES</div>
<div class="c" style="left:806.8px;top:1346.7px;font-size:15px;line-height:15px;letter-spacing:-0.308px">YES</div>
<div class="c" style="left:950.2px;top:1350.4px;font-size:16px;line-height:16px;letter-spacing:1.000px">NO</div>
<div class="c" style="left:765.0px;top:1502.3px;font-size:16px;line-height:16px;letter-spacing:1.000px">NO</div>
<div class="c" style="left:904.4px;top:1503.4px;font-size:15px;line-height:15px;letter-spacing:-0.308px">YES</div>
<div class="c" style="left:691.3px;top:1734.2px;font-size:15px;line-height:15px;letter-spacing:-0.308px">YES</div>
<div class="c" style="left:835.4px;top:1728.8px;font-size:16px;line-height:16px;letter-spacing:1.000px">NO</div>
<div class="c" style="left:189.1px;top:1733.9px;font-size:15px;line-height:15px;letter-spacing:-0.308px">YES</div>
<div class="c" style="left:414.0px;top:1793.2px;font-size:10.2px;line-height:10.2px;letter-spacing:1.273px">I DON’T</div>
<div class="c" style="left:418.2px;top:1803.2px;font-size:10.2px;line-height:10.2px;letter-spacing:1.445px">KNOW</div>
<div class="c" style="left:313.4px;top:1917.9px;font-size:16px;line-height:16px;letter-spacing:1.000px">NO</div>
<div class="c" style="left:449.1px;top:1917.1px;font-size:15px;line-height:15px;letter-spacing:-0.308px">YES</div>
<div class="c" style="left:665.0px;top:1984.1px;font-size:16px;line-height:16px;letter-spacing:1.000px">NO</div>
<div class="c" style="left:800.7px;top:1982.6px;font-size:15px;line-height:15px;letter-spacing:-0.308px">YES</div>
<div class="c" style="left:414.8px;top:2132.7px;font-size:16px;line-height:16px;letter-spacing:1.000px">NO</div>
<div class="c" style="left:874.9px;top:2221.4px;font-size:15px;line-height:15px;letter-spacing:-0.308px">YES</div>
</div></body></html>
